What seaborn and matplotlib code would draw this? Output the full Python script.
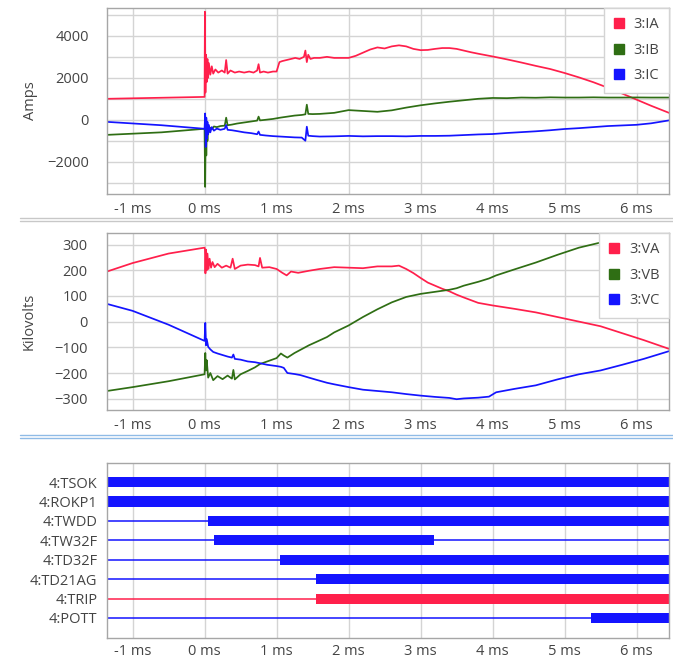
import matplotlib
matplotlib.use("Agg")
import matplotlib.pyplot as plt
from matplotlib.lines import Line2D
from matplotlib.ticker import FuncFormatter, MultipleLocator
import seaborn as sns

# Time axis limits (ms)
T_MIN, T_MAX = -1.355, 6.45

# Currents (Amps)
IA_T = [-1.355, -0.6, 0.0, 0.005, 0.012, 0.02, 0.03, 0.04, 0.05, 0.06, 0.08, 0.10, 0.12,
        0.15, 0.19, 0.24, 0.28, 0.30, 0.32, 0.36, 0.42, 0.48, 0.55,
        0.62, 0.68, 0.73, 0.75, 0.77, 0.82, 0.88, 0.95, 1.00, 1.04,
        1.08, 1.14, 1.20, 1.26, 1.32, 1.38, 1.40, 1.42, 1.44, 1.47,
        1.52, 1.6, 1.7, 1.8, 1.9, 2.0, 2.1, 2.2, 2.3, 2.4,
        2.5, 2.6, 2.7, 2.8, 2.9, 3.0, 3.1, 3.2, 3.3, 3.4,
        3.5, 3.6, 3.7, 3.8, 4.0, 4.2, 4.4, 4.6, 4.8, 5.0,
        5.2, 5.4, 5.6, 5.8, 6.0, 6.2, 6.45]
IA_V = [1000, 1050, 1090, 5150, 1300, 3100, 1800, 2900, 2000, 2700, 2150, 2550, 2200,
        2400, 2250, 2350, 2250, 2850, 2200, 2350, 2250, 2300, 2250,
        2300, 2250, 2350, 2650, 2250, 2300, 2250, 2300, 2300, 2750,
        2800, 2850, 2900, 2950, 2900, 3000, 3300, 2750, 3100, 2900,
        2950, 2950, 3000, 2950, 2950, 2950, 3050, 3200, 3350, 3450,
        3400, 3500, 3550, 3500, 3380, 3320, 3330, 3380, 3420, 3420,
        3380, 3300, 3220, 3150, 3020, 2880, 2730, 2570, 2420, 2230,
        2020, 1790, 1530, 1250, 960, 670, 330]

I_BC_T = [-1.355, -0.6, 0.0, 0.008, 0.016, 0.024, 0.032, 0.04, 0.05, 0.06,
          0.08, 0.10, 0.13, 0.17, 0.22, 0.28, 0.30, 0.32, 0.38, 0.45,
          0.55, 0.65, 0.73, 0.75, 0.77, 0.85, 0.95, 1.05, 1.15, 1.25,
          1.35, 1.40, 1.42, 1.44, 1.5, 1.6, 1.8, 2.0, 2.2, 2.4,
          2.6, 2.8, 3.0, 3.2, 3.4, 3.6, 3.8, 4.0, 4.2, 4.4,
          4.6, 4.8, 5.0, 5.2, 5.4, 5.6, 5.8, 6.0, 6.2, 6.45]
IB_V = [-720, -600, -430, -3200, -200, -1700, -350, -1000, -300, -600,
        -380, -450, -320, -350, -300, -280, 100, -260, -230, -180,
        -130, -80, -40, 150, -30, 0, 40, 100, 150, 200,
        230, 260, 720, 280, 270, 280, 330, 460, 420, 380,
        450, 580, 690, 780, 860, 930, 1000, 1040, 1030, 1060,
        1050, 1070, 1060, 1060, 1070, 1060, 1060, 1065, 1060, 1060]
IC_V = [-100, -260, -430, 300, -1300, 100, -900, -100, -700, -250,
        -600, -350, -520, -420, -480, -430, -250, -480, -500, -540,
        -600, -640, -690, -560, -720, -750, -780, -800, -820, -840,
        -850, -1000, -330, -760, -780, -800, -790, -770, -790, -780,
        -780, -790, -770, -770, -760, -730, -700, -680, -630, -590,
        -550, -500, -440, -400, -350, -300, -270, -240, -170, -30]

# Voltages (Kilovolts)
VA_T = [-1.355, -1.0, -0.5, 0.0, 0.005, 0.012, 0.02, 0.03, 0.04, 0.055,
        0.07, 0.09, 0.11, 0.14, 0.18, 0.24, 0.3, 0.36, 0.39, 0.42,
        0.5, 0.6, 0.7, 0.75, 0.77, 0.8, 0.9, 1.0, 1.08, 1.14,
        1.2, 1.3, 1.45, 1.6, 1.8, 2.0, 2.2, 2.4, 2.6, 2.7,
        2.8, 2.9, 3.0, 3.1, 3.2, 3.3, 3.4, 3.5, 3.6, 3.8,
        4.0, 4.3, 4.6, 4.9, 5.2, 5.5, 5.8, 6.1, 6.45]
VA_V = [195, 228, 265, 288, 282, 188, 280, 200, 265, 205,
        245, 210, 232, 212, 225, 210, 218, 210, 245, 205,
        218, 222, 220, 215, 248, 210, 212, 205, 190, 180,
        195, 190, 198, 205, 212, 210, 208, 215, 215, 218,
        205, 189, 170, 152, 140, 128, 118, 105, 94, 73,
        63, 50, 36, 18, 0, -18, -45, -72, -106]

V_BC_T = [-1.355, -1.0, -0.5, 0.0, 0.01, 0.02, 0.03, 0.05, 0.08, 0.12,
          0.18, 0.25, 0.32, 0.38, 0.40, 0.42, 0.5, 0.6, 0.7, 0.77,
          0.87, 1.0, 1.06, 1.1, 1.15, 1.25, 1.33, 1.45, 1.56, 1.7,
          1.8, 2.0, 2.2, 2.4, 2.6, 2.8, 3.0, 3.2, 3.4, 3.5,
          3.6, 3.8, 3.95, 4.05, 4.3, 4.6, 4.9, 5.2, 5.5, 5.8,
          6.1, 6.45]
VB_V = [-270, -255, -232, -205, -122, -190, -150, -218, -200, -228,
        -212, -224, -210, -222, -188, -225, -205, -192, -178, -165,
        -155, -142, -124, -132, -140, -122, -110, -92, -78, -60,
        -42, -15, 18, 48, 75, 96, 108, 116, 124, 130,
        140, 155, 168, 180, 203, 230, 260, 288, 308, 318,
        320, 315]
VC_V = [69, 42, -12, -75, -5, -92, -68, -98, -108, -118,
        -124, -130, -136, -140, -128, -145, -148, -155, -158, -162,
        -168, -173, -176, -180, -200, -204, -208, -218, -227, -238,
        -244, -255, -265, -270, -275, -282, -288, -293, -297, -302,
        -299, -296, -292, -275, -262, -248, -225, -205, -190, -168,
        -145, -115]

# Digital channels: asserted from DIG_ON to DIG_OFF (ms)
DIG_NAMES = ['4:TSOK', '4:ROKP1', '4:TWDD', '4:TW32F', '4:TD32F', '4:TD21AG', '4:TRIP', '4:POTT']
DIG_ON = [-1.355, -1.355, 0.05, 0.13, 1.05, 1.55, 1.55, 5.37]
DIG_OFF = [6.45, 6.45, 6.45, 3.18, 6.45, 6.45, 6.45, 6.45]

RED = '#ff1f4b'
GREEN = '#2f6e14'
BLUE = '#1414ff'
GRID = '#d4d4d4'
SPINE = '#a6a6a6'
TXT = '#444444'

sns.set_style("white")
plt.rcParams['font.family'] = ['Open Sans', 'DejaVu Sans']

W, H = 673, 660
fig = plt.figure(figsize=(W / 100, H / 100), dpi=100)


def box(top, bottom, left=107, right=669):
    return [left / W, 1 - bottom / H, (right - left) / W, (bottom - top) / H]


ax1 = fig.add_axes(box(8, 194))
ax2 = fig.add_axes(box(233, 410))
ax3 = fig.add_axes(box(463, 638))

ms_fmt = FuncFormatter(lambda x, _: f"{int(round(x))} ms")

for ax in (ax1, ax2, ax3):
    ax.set_xlim(T_MIN, T_MAX)
    ax.xaxis.set_major_locator(MultipleLocator(1))
    ax.xaxis.set_major_formatter(ms_fmt)
    ax.grid(axis='x', color=GRID, lw=1)
    ax.set_axisbelow(True)
    for s in ax.spines.values():
        s.set_color(SPINE)
        s.set_linewidth(1)
    ax.tick_params(axis='both', length=0, labelsize=10.5, labelcolor=TXT)
    ax.tick_params(axis='x', pad=5.5)

# Panel 1: currents
lw = 1.25
sns.lineplot(x=IA_T, y=IA_V, ax=ax1, color=RED, lw=lw, sort=False, estimator=None)
sns.lineplot(x=I_BC_T, y=IB_V, ax=ax1, color=GREEN, lw=lw, sort=False, estimator=None)
sns.lineplot(x=I_BC_T, y=IC_V, ax=ax1, color=BLUE, lw=lw, sort=False, estimator=None)
ax1.set_ylim(-3540, 5330)
ax1.yaxis.set_major_locator(MultipleLocator(2000))
ax1.yaxis.set_minor_locator(MultipleLocator(1000))
ax1.grid(axis='y', which='both', color=GRID, lw=1)
ax1.tick_params(axis='y', which='both', length=0, pad=13)
ax1.set_ylabel('Amps', fontsize=10.5, color=TXT)
ax1.yaxis.set_label_coords(-0.122, 0.5)

# Panel 2: voltages
sns.lineplot(x=VA_T, y=VA_V, ax=ax2, color=RED, lw=lw, sort=False, estimator=None)
sns.lineplot(x=V_BC_T, y=VB_V, ax=ax2, color=GREEN, lw=lw, sort=False, estimator=None)
sns.lineplot(x=V_BC_T, y=VC_V, ax=ax2, color=BLUE, lw=lw, sort=False, estimator=None)
ax2.set_ylim(-344, 345)
ax2.yaxis.set_major_locator(MultipleLocator(100))
ax2.grid(axis='y', color=GRID, lw=1)
ax2.tick_params(axis='y', pad=14)
ax2.set_ylabel('Kilovolts', fontsize=10.5, color=TXT)
ax2.yaxis.set_label_coords(-0.125, 0.5)


def add_legend(ax, labels):
    handles = [Line2D([], [], ls='', marker='s', markersize=7, color=c) for c in (RED, GREEN, BLUE)]
    leg = ax.legend(handles, labels, loc='upper right', borderaxespad=0, frameon=True,
                    fancybox=False, framealpha=1, edgecolor='#d4d4d4', fontsize=10.5,
                    handlelength=0.8, handletextpad=0.6, labelspacing=0.72, borderpad=0.65)
    for t in leg.get_texts():
        t.set_color(TXT)
    leg.get_frame().set_linewidth(1)


add_legend(ax1, ['3:IA', '3:IB', '3:IC'])
add_legend(ax2, ['3:VA', '3:VB', '3:VC'])

# Panel 3: digital channels
rows = list(range(len(DIG_NAMES)))
for i, name in enumerate(DIG_NAMES):
    c = RED if name == '4:TRIP' else BLUE
    ax3.hlines(i, T_MIN, T_MAX, color=c, lw=1.1)
    ax3.barh(i, DIG_OFF[i] - DIG_ON[i], left=DIG_ON[i], height=0.52, color=c, linewidth=0)
ax3.set_yticks(rows)
ax3.set_yticklabels(DIG_NAMES)
ax3.set_ylim(len(DIG_NAMES) - 1 + 1.03, -0.98)
ax3.tick_params(axis='y', pad=7)
ax3.tick_params(axis='x', pad=4)

# panel separators
for y, c in ((218, '#c8c8c8'), (221, '#c8c8c8'), (435, '#8fbbe6'), (438, '#8fbbe6')):
    fig.add_artist(Line2D([20 / W, 1], [1 - y / H] * 2, transform=fig.transFigure, color=c, lw=1))

fig.savefig('out.png', dpi=100)
